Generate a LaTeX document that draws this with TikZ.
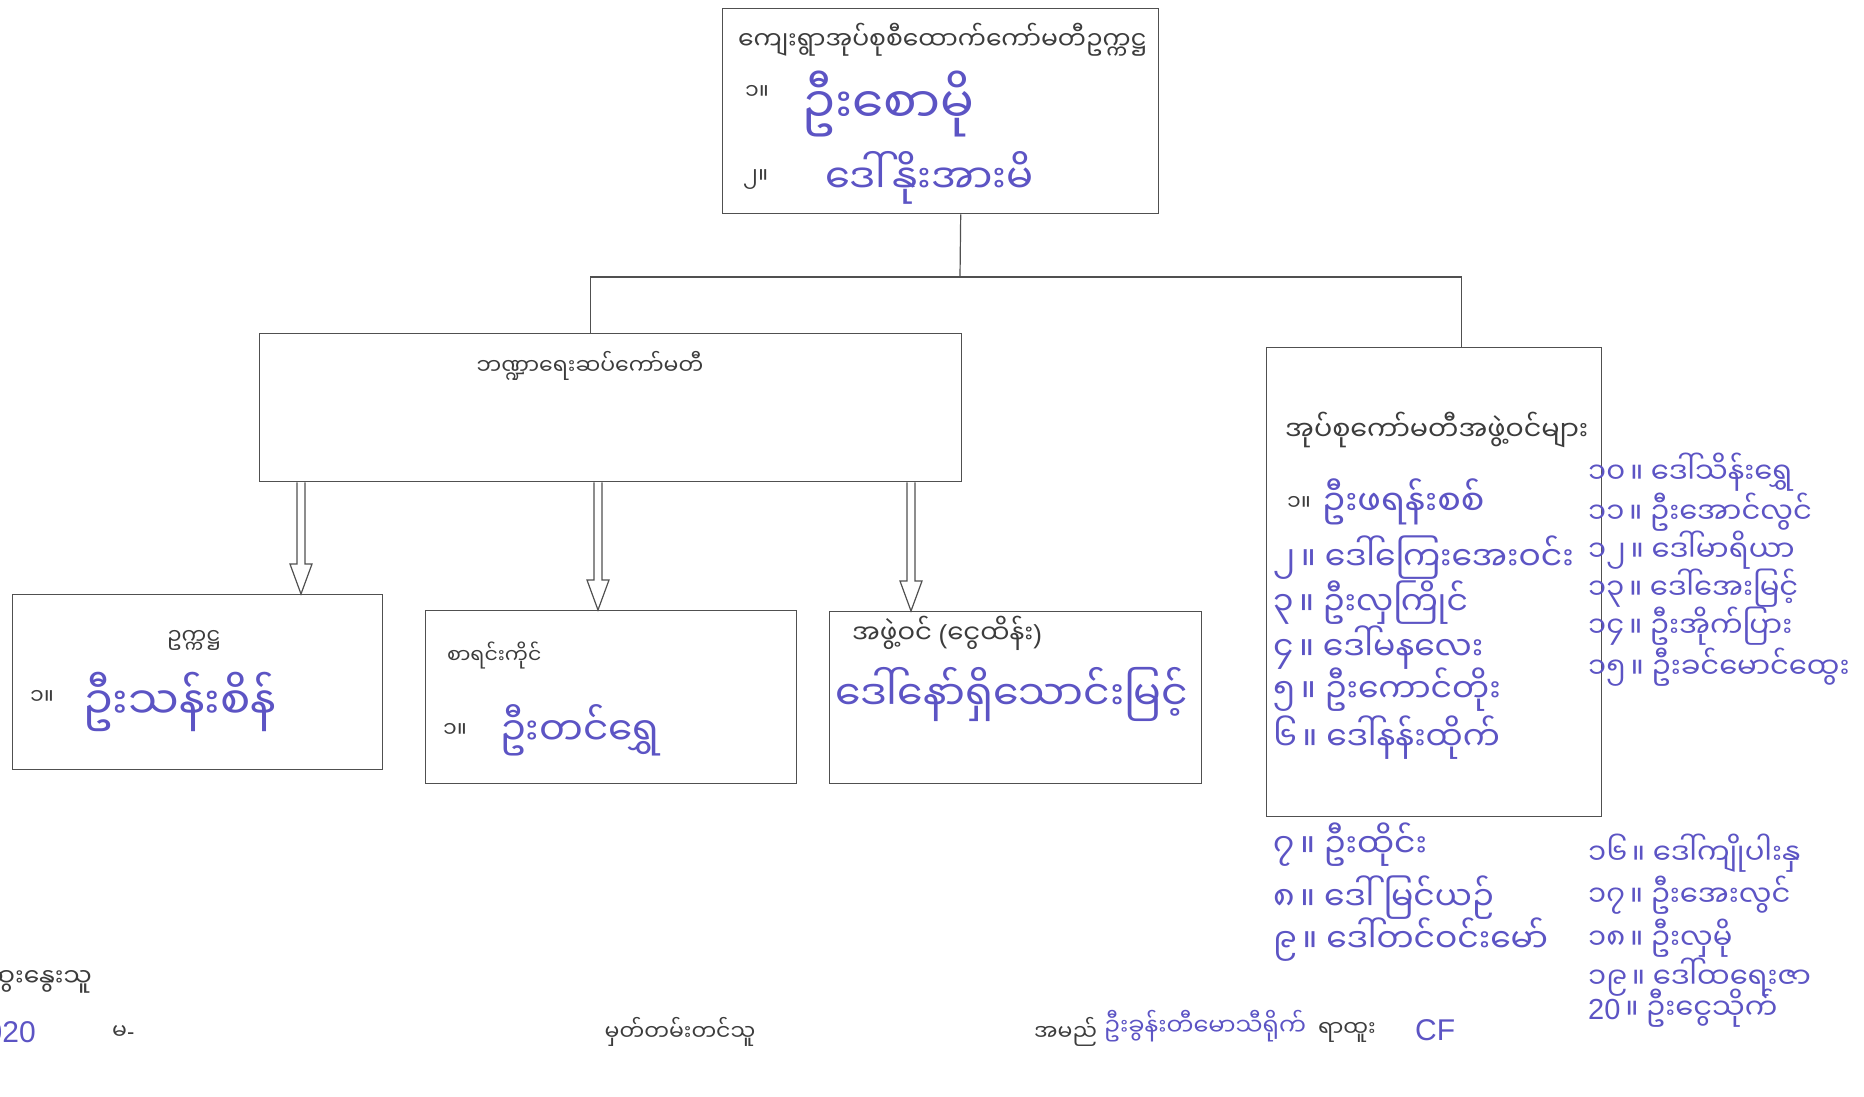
\documentclass[tikz,border=0pt]{standalone}
\usepackage{fontspec}
\setmainfont{Liberation Sans}
\newfontfamily\mm[Script=Myanmar]{Noto Sans Myanmar UI}
\usetikzlibrary{calc}

\definecolor{ink}{RGB}{92,84,196}
\definecolor{printgray}{RGB}{60,60,60}
\definecolor{linegray}{RGB}{80,80,80}

\newcommand\lat[1]{{\normalfont #1}}
\newcommand\fs[1]{\mm\fontsize{#1}{#1}\selectfont}
% hollow arrow from #1 down to #2
\newcommand\hollowarrow[2]{%
  \draw[arrowline] ($(#1)+(-4,0)$) -- ($(#2)+(-4,-30)$) -- ($(#2)+(-11,-30)$)
    -- (#2) -- ($(#2)+(11,-30)$) -- ($(#2)+(4,-30)$) -- ($(#1)+(4,0)$);}

\begin{document}
\begin{tikzpicture}[x=1pt,y=-1pt,
    box/.style={draw=linegray,line width=1.4pt,inner sep=0pt,anchor=north west},
    print/.style={text=printgray,font=\fs{22},inner sep=0pt,anchor=west},
    hand/.style={text=ink,font=\fs{40},inner sep=0pt,anchor=west},
    arrowline/.style={draw=linegray,line width=1.2pt,line join=miter}]
    \useasboundingbox (0,0) rectangle (1864,1097);

    % boxes
    \node[box,minimum width=436pt,minimum height=205pt] (head) at (722,8) {};
    \node[box,minimum width=702pt,minimum height=148pt] (fin) at (259,333) {};
    \node[box,minimum width=370pt,minimum height=175pt] (chair) at (12,594) {};
    \node[box,minimum width=371pt,minimum height=173pt] (acct) at (425,610) {};
    \node[box,minimum width=372pt,minimum height=172pt] (trea) at (829,611) {};
    \node[box,minimum width=335pt,minimum height=469pt] (members) at (1266,347) {};

    % tree lines
    \coordinate (split) at (960,277);
    \draw[arrowline] ([xshift=20pt]head.south) -- (split);
    \draw[arrowline] ([xshift=-20pt]fin.north) |- (split) -| ([xshift=27pt]members.north);

    % arrows down to the three boxes
    \coordinate (ua) at (301,0);
    \coordinate (ub) at (598,0);
    \coordinate (uc) at (911,0);
    \hollowarrow{fin.south -| ua}{chair.north -| ua}
    \hollowarrow{fin.south -| ub}{acct.north -| ub}
    \hollowarrow{fin.south -| uc}{trea.north -| uc}

    % head box
    \node[print,font=\fs{25}] (headtitle) at (738,40) {ကျေးရွာအုပ်စုစီထောက်ကော်မတီဥက္ကဋ္ဌ};
    \node[print] (headno1) at (745,92) {၁။};
    \node[hand,font=\fs{50}] (headname1) at (802,104) {ဦးစောမို};
    \node[print] (headno2) at (743,180) {၂။};
    \node[hand] (headname2) at (825,178) {ဒေါ်နိုးအားမိ};

    \node[print,anchor=center] (fintitle) at (590,366) {ဘဏ္ဍာရေးဆပ်ကော်မတီ};

    \node[print,anchor=center] (chairtitle) at (194,640) {ဥက္ကဋ္ဌ};
    \node[print] (chairno) at (30,697) {၁။};
    \node[hand,font=\fs{45}] (chairname) at (83,702) {ဦးသန်းစိန်};

    \node[print,font=\fs{20.5}] (accttitle) at (447,655) {စာရင်းကိုင်};
    \node[print] (acctno) at (443,730) {၁။};
    \node[hand,font=\fs{39}] (acctname) at (500,730) {ဦးတင်ရွှေ};

    \node[print,font=\fs{26}] (treatitle) at (852,633) {အဖွဲ့ဝင် \lat{(}ငွေထိန်း\lat{)}};
    \node[hand,font=\fs{41}] (treaname) at (835,694) {ဒေါ်နော်ရှိသောင်းမြင့်};

    % members
    \node[print,font=\fs{27}] (memtitle) at (1285,430) {အုပ်စုကော်မတီအဖွဲ့ဝင်များ};
    \node[print] (memno1) at (1287,503) {၁။};
    \node[hand,font=\fs{35}] (mem1) at (1322,502) {ဦးဖရန်းစစ်};
    \foreach \i/\n/\nm/\yy in {2/၂/ဒေါ်ကြေးအေးဝင်း/558, 3/၃/ဦးလှကြိုင်/603,
        4/၄/ဒေါ်မနလေး/648, 5/၅/ဦးကောင်တိုး/690, 6/၆/ဒေါ်နန်းထိုက်/738,
        7/၇/ဦးထိုင်း/845, 8/၈/ဒေါ်မြင်ယဉ်/898, 9/၉/ဒေါ်တင်ဝင်းမော်/940}
        \node[hand,font=\fs{33}] (mem\i) at (1273,\yy) {\n\,။ \nm};
    \foreach \i/\n/\nm/\yy in {10/၁၀/ဒေါ်သိန်းရွှေ/472, 11/၁၁/ဦးအောင်လွင်/512,
        12/၁၂/ဒေါ်မာရိယာ/550, 13/၁၃/ဒေါ်အေးမြင့်/588, 14/၁၄/ဦးအိုက်ပြား/626,
        15/၁၅/ဦးခင်မောင်ထွေး/667, 16/၁၆/ဒေါ်ကျိုပါးနှ/853, 17/၁၇/ဦးအေးလွင်/895,
        18/၁၈/ဦးလှမို/938, 19/၁၉/ဒေါ်ထရေးဇာ/977}
        \node[hand,font=\fs{29}] (mem\i) at (1588,\yy) {\n\,။ \nm};
    \node[hand,font=\fs{29}] (mem20) at (1588,1008) {\lat{20}\,။ ဦးငွေသိုက်};

    % signatures
    \node[print,font=\fs{25},anchor=east] (discuss) at (92,982) {ဆွေးနွေးသူ};
    \node[hand,font=\fs{30},anchor=east] (discussdate) at (36,1032) {\lat{2020}};
    \node[print] (discussno) at (112,1032) {မ\lat{-}};
    \node[print,anchor=center] (recorder) at (680,1032) {မှတ်တမ်းတင်သူ};
    \node[print] (namelabel) at (1034,1032) {အမည်};
    \node[hand,font=\fs{24}] (recname) at (1104,1026) {ဦးခွန်းတီမောသီရိုက်};
    \node[print] (ranklabel) at (1318,1032) {ရာထူး};
    \node[hand,font=\fs{30}] (rank) at (1415,1030) {\lat{CF}};
\end{tikzpicture}
\end{document}
